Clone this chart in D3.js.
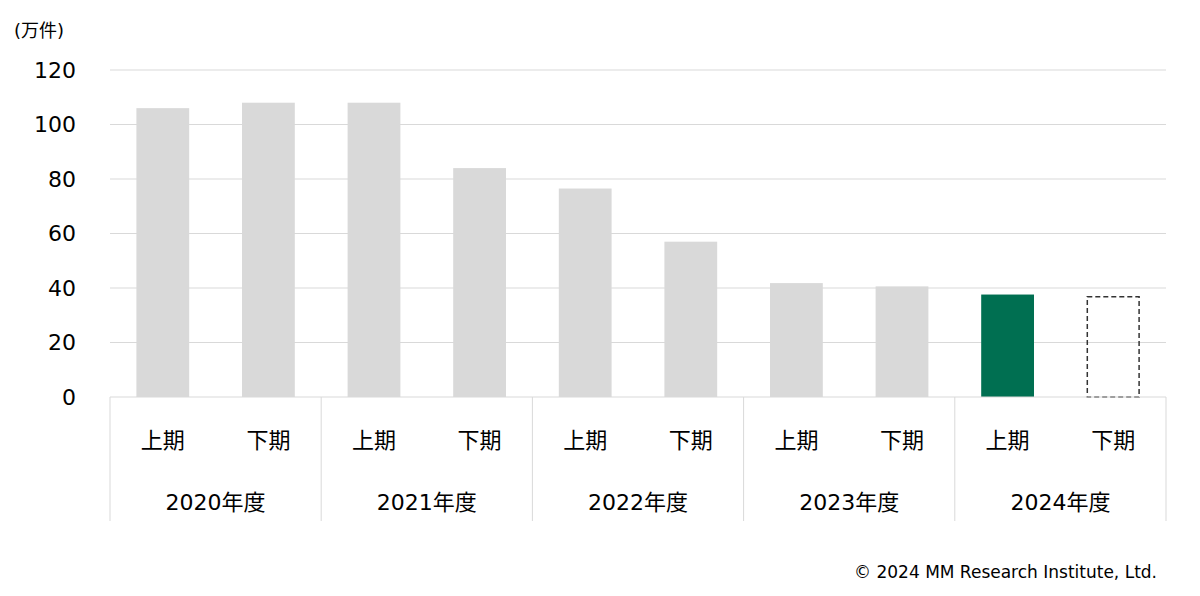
<!DOCTYPE html>
<html><head><meta charset="utf-8">
<script src="https://cdn.jsdelivr.net/npm/d3@7"></script>
<style>body{margin:0;background:#fff}svg{display:block;font-family:"DejaVu Sans","Noto Sans CJK JP",sans-serif}</style>
</head><body>
<script>
const years = ["2020年度", "2021年度", "2022年度", "2023年度", "2024年度"];
const halves = ["上期", "下期"];
const values = [106, 108, 108, 84, 76.5, 57, 41.8, 40.6, 37.6, 36.8];
const kinds = ["actual", "actual", "actual", "actual", "actual", "actual", "actual", "actual", "current", "forecast"];
const yTicks = [0, 20, 40, 60, 80, 100, 120];

const width = 1200, height = 596;
const margin = { top: 70, right: 34, bottom: 199, left: 110 };
const cats = values.map((d, i) => i);

const svg = d3.select("body").append("svg").attr("width", width).attr("height", height);
const x = d3.scaleBand().domain(cats).range([margin.left, width - margin.right]).paddingInner(0.5).paddingOuter(0.25);
const y = d3.scaleLinear().domain([0, 120]).range([height - margin.bottom, margin.top]);

svg.append("g").selectAll("line").data(yTicks.slice(1)).join("line")
  .attr("x1", margin.left).attr("x2", width - margin.right)
  .attr("y1", d => y(d)).attr("y2", d => y(d)).attr("stroke", "#d9d9d9");

svg.append("g").selectAll("text").data(yTicks).join("text")
  .attr("x", 76).attr("y", d => y(d)).attr("dy", "0.36em").attr("text-anchor", "end")
  .style("font-size", "22px").attr("fill", "#000").text(d => d);

svg.append("text").attr("x", 14).attr("y", 37).style("font-size", "18px").text("(万件)");

svg.append("g").selectAll("rect").data(values).join("rect")
  .attr("x", (d, i) => x(i) + (kinds[i] === "forecast" ? 0.5 : 0))
  .attr("y", d => y(d))
  .attr("width", (d, i) => x.bandwidth() - (kinds[i] === "forecast" ? 1 : 0))
  .attr("height", d => y(0) - y(d))
  .attr("fill", (d, i) => kinds[i] === "actual" ? "#d9d9d9" : kinds[i] === "current" ? "#006f51" : "none")
  .attr("stroke", (d, i) => kinds[i] === "forecast" ? "#333" : "none")
  .attr("stroke-dasharray", "5,3").attr("stroke-width", 1.5);

// category axis
const step = x.step();
const base = y(0);
svg.append("line").attr("x1", margin.left).attr("x2", width - margin.right)
  .attr("y1", base).attr("y2", base).attr("stroke", "#d9d9d9");
const seps = d3.range(years.length + 1).map(i => margin.left + i * 2 * step);
svg.append("g").selectAll("line").data(seps).join("line")
  .attr("x1", d => d).attr("x2", d => d).attr("y1", base).attr("y2", 521).attr("stroke", "#d9d9d9");
svg.append("g").selectAll("text").data(cats).join("text")
  .attr("x", i => x(i) + x.bandwidth() / 2).attr("y", 448).attr("text-anchor", "middle")
  .style("font-size", "22px").text(i => halves[i % 2]);
svg.append("g").selectAll("text").data(years).join("text")
  .attr("x", (d, i) => margin.left + (i * 2 + 1) * step).attr("y", 510).attr("text-anchor", "middle")
  .style("font-size", "22px").text(d => d);

svg.append("text").attr("x", 1157).attr("y", 578).attr("text-anchor", "end")
  .style("font-size", "17px").text("© 2024 MM Research Institute, Ltd.");
</script>
</body></html>
